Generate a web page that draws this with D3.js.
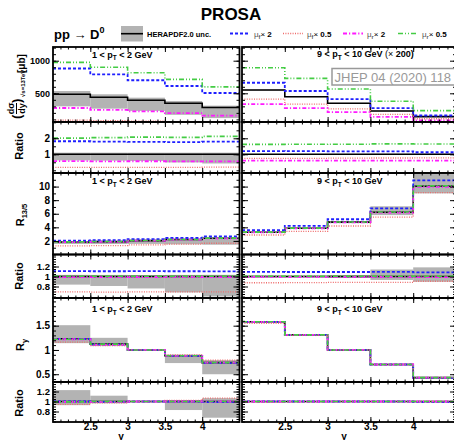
<!DOCTYPE html>
<html><head><meta charset="utf-8">
<script src="https://cdn.jsdelivr.net/npm/d3@7"></script>
<style>
body{margin:0;background:#fff}
svg{display:block}
text{font-family:"Liberation Sans",Arial,Helvetica,sans-serif}
</style>
</head><body>
<svg id="chart" width="454" height="440"></svg>
<script>
// Rapidity bins (LHCb-like binning) and tick labels
const yEdges = [2.0, 2.5, 3.0, 3.5, 4.0, 4.5];
const xTickLabels = [2.5, 3, 3.5, 4];

// dsigma/dy at 13 TeV [mub], 1 < pT < 2 GeV
const xsLowNom  = [485, 440, 393, 347, 282];
const xsLowUp   = [535, 485, 433, 382, 311];
const xsLowDn   = [300, 265, 230, 170, 120];
const xsLowMuF2  = [880, 790, 700, 612, 505];
const xsLowMuF05 = [88, 80, 72, 64, 54];
const xsLowMuR2  = [275, 245, 222, 195, 158];
const xsLowMuR05 = [975, 900, 815, 714, 598];

// dsigma/dy at 13 TeV [mub], 9 < pT < 10 GeV (x 200)
const xsHighNom  = [550, 448, 347, 229, 142];
const xsHighUp   = [560, 456, 354, 236, 148];
const xsHighDn   = [540, 440, 340, 222, 136];
const xsHighMuF2  = [662, 535, 410, 272, 160];
const xsHighMuF05 = [410, 335, 262, 176, 110];
const xsHighMuR2  = [335, 272, 210, 138, 86];
const xsHighMuR05 = [892, 729, 566, 378, 234];

// R_13/5, 1 < pT < 2 GeV
const r135LowNom  = [1.85, 1.9, 2.05, 2.2, 2.4];
const r135LowUp   = [1.91, 1.96, 2.11, 2.27, 2.48];
const r135LowDn   = [1.55, 1.54, 1.56, 1.5, 1.44];
const r135LowMuF2  = [2.05, 2.1, 2.27, 2.43, 2.65];
const r135LowMuF05 = [1.28, 1.31, 1.42, 1.52, 1.66];
const r135LowMuR2  = [1.83, 1.88, 2.03, 2.18, 2.37];
const r135LowMuR05 = [1.86, 1.91, 2.06, 2.21, 2.41];

// R_13/5, 9 < pT < 10 GeV
const r135HighNom  = [3.28, 3.87, 4.76, 6.23, 10.06];
const r135HighUp   = [3.34, 3.94, 4.9, 7.1, 11.9];
const r135HighDn   = [3.22, 3.8, 4.62, 5.8, 9.0];
const r135HighMuF2  = [3.58, 4.22, 5.19, 6.8, 10.9];
const r135HighMuF05 = [2.87, 3.4, 4.2, 5.5, 9.1];
const r135HighMuR2  = [3.25, 3.84, 4.72, 6.18, 9.95];
const r135HighMuR05 = [3.3, 3.89, 4.78, 6.26, 10.1];

// R_y (normalised to 3.0 < y < 3.5), 1 < pT < 2 GeV
const ryLowNom  = [1.23, 1.12, 1.0, 0.88, 0.74];
const ryLowUp   = [1.51, 1.25, 1.005, 0.905, 0.79];
const ryLowDn   = [1.14, 1.08, 0.995, 0.73, 0.5];
const ryLowMuF2  = [1.23, 1.11, 1.0, 0.88, 0.73];
const ryLowMuF05 = [1.16, 1.09, 1.0, 0.9, 0.79];
const ryLowMuR2  = [1.22, 1.11, 1.0, 0.88, 0.74];
const ryLowMuR05 = [1.22, 1.12, 1.0, 0.88, 0.74];

// R_y, 9 < pT < 10 GeV
const ryHighNom  = [1.58, 1.31, 1.0, 0.70, 0.43];
const ryHighUp   = [1.595, 1.32, 1.003, 0.705, 0.435];
const ryHighDn   = [1.565, 1.30, 0.997, 0.695, 0.425];
const ryHighMuF2  = [1.58, 1.31, 1.0, 0.70, 0.425];
const ryHighMuF05 = [1.55, 1.30, 1.0, 0.70, 0.43];
const ryHighMuR2  = [1.58, 1.31, 1.0, 0.70, 0.43];
const ryHighMuR05 = [1.58, 1.31, 1.0, 0.70, 0.43];

const legendLabels = ["HERAPDF2.0 unc.", "\u03bc_f\u00d7 2", "\u03bc_f\u00d7 0.5", "\u03bc_r\u00d7 2", "\u03bc_r\u00d7 0.5"];

// ---------- layout ----------
const svg = d3.select("#chart");
const cols = [{x0: 53, x1: 239.5}, {x0: 242, x1: 456}];
const fmt1 = v => v === 1 ? "1" : d3.format(".1f")(v);
const rows = [
  {y0: 47,    y1: 122,   dom: [60, 1210],    major: [500, 1000],      minorStep: 100,  fmt: d3.format("d"), fs: 9},
  {y0: 122,   y1: 173,   dom: [-0.17, 3.02], major: [1, 2],           minorStep: 0.5,  fmt: d3.format("d"), fs: 10},
  {y0: 173,   y1: 254.5, dom: [0, 12],       major: [2, 4, 6, 8, 10], minorStep: 1,    fmt: d3.format("d"), fs: 10},
  {y0: 254.5, y1: 298,   dom: [0.57, 1.44],  major: [0.8, 1, 1.2],    minorStep: 0.05, fmt: fmt1, fs: 9.5},
  {y0: 298,   y1: 382,   dom: [0.34, 2.07],  major: [0.5, 1, 1.5],    minorStep: 0.1,  fmt: fmt1, fs: 10},
  {y0: 382,   y1: 422,   dom: [0.59, 1.39],  major: [0.8, 1, 1.2],    minorStep: 0.05, fmt: fmt1, fs: 9.5}
];

const styles = {
  muF2:  {color: "#1f1fff", dash: "3,2",          width: 1.8},
  muF05: {color: "#ee6b6b", dash: "1,1.4",        width: 1.3},
  muR2:  {color: "#ff1aff", dash: "4,2,1.2,2",    width: 1.8},
  muR05: {color: "#44cc44", dash: "5,2,1,2,1,2",  width: 1.6}
};
const bandColor = "#b3b3b3";

const observables = [
  {main: 0, ratio: 1,
   sets: [
     {nom: xsLowNom, up: xsLowUp, dn: xsLowDn, muF2: xsLowMuF2, muF05: xsLowMuF05, muR2: xsLowMuR2, muR05: xsLowMuR05},
     {nom: xsHighNom, up: xsHighUp, dn: xsHighDn, muF2: xsHighMuF2, muF05: xsHighMuF05, muR2: xsHighMuR2, muR05: xsHighMuR05}]},
  {main: 2, ratio: 3,
   sets: [
     {nom: r135LowNom, up: r135LowUp, dn: r135LowDn, muF2: r135LowMuF2, muF05: r135LowMuF05, muR2: r135LowMuR2, muR05: r135LowMuR05},
     {nom: r135HighNom, up: r135HighUp, dn: r135HighDn, muF2: r135HighMuF2, muF05: r135HighMuF05, muR2: r135HighMuR2, muR05: r135HighMuR05}]},
  {main: 4, ratio: 5,
   sets: [
     {nom: ryLowNom, up: ryLowUp, dn: ryLowDn, muF2: ryLowMuF2, muF05: ryLowMuF05, muR2: ryLowMuR2, muR05: ryLowMuR05},
     {nom: ryHighNom, up: ryHighUp, dn: ryHighDn, muF2: ryHighMuF2, muF05: ryHighMuF05, muR2: ryHighMuR2, muR05: ryHighMuR05}]}
];

const defs = svg.append("defs");
let clipId = 0;

function makeScales(ci, ri) {
  const c = cols[ci], r = rows[ri];
  const x = d3.scaleLinear().domain([yEdges[0], yEdges[yEdges.length - 1]]).range([c.x0, c.x1]);
  const y = d3.scaleLinear().domain(r.dom).range([r.y1, r.y0]);
  return {x, y};
}

function stepPoints(vals) {
  const pts = [];
  vals.forEach((v, i) => { pts.push([yEdges[i], v]); pts.push([yEdges[i + 1], v]); });
  return pts;
}

function panel(ci, ri, nom, up, dn, series, isRatio) {
  const {x, y} = makeScales(ci, ri);
  const c = cols[ci], r = rows[ri];
  const id = "clip" + (clipId++);
  defs.append("clipPath").attr("id", id).append("rect")
    .attr("x", c.x0).attr("y", r.y0).attr("width", c.x1 - c.x0).attr("height", r.y1 - r.y0);
  const g = svg.append("g").attr("clip-path", `url(#${id})`);
  const val = (arr, i) => isRatio ? arr[i] / nom[i] : arr[i];

  // uncertainty band
  g.selectAll("rect.band").data(nom).join("rect").attr("class", "band")
    .attr("x", (d, i) => x(yEdges[i]))
    .attr("width", (d, i) => x(yEdges[i + 1]) - x(yEdges[i]))
    .attr("y", (d, i) => y(val(up, i)))
    .attr("height", (d, i) => y(val(dn, i)) - y(val(up, i)))
    .attr("fill", bandColor);

  const line = d3.line().x(d => x(d[0])).y(d => y(d[1]));
  // nominal
  g.append("path").attr("d", line(stepPoints(nom.map((d, i) => val(nom, i)))))
    .attr("fill", "none").attr("stroke", "#000").attr("stroke-width", 1.6);
  // scale variations
  ["muF2", "muF05", "muR2", "muR05"].forEach(k => {
    const s = styles[k];
    g.append("path").attr("d", line(stepPoints(series[k].map((d, i) => val(series[k], i)))))
      .attr("fill", "none").attr("stroke", s.color).attr("stroke-width", s.width)
      .attr("stroke-dasharray", s.dash);
  });

  // frame and ticks
  const ax = svg.append("g");
  const majLenX = 5, minLenX = 2.5, majLenY = 6, minLenY = 3;
  const xMinor = d3.range(20, 46).map(v => v / 10).filter(v => v > 2.0 && v < 4.5);
  [[r.y1, -1], [r.y0, 1]].forEach(([yy, dir]) => {
    ax.append("g").attr("transform", `translate(0,${yy})`)
      .call((dir < 0 ? d3.axisBottom(x) : d3.axisTop(x)).tickValues(xMinor).tickSize(-minLenX).tickFormat(""));
    ax.append("g").attr("transform", `translate(0,${yy})`)
      .call((dir < 0 ? d3.axisBottom(x) : d3.axisTop(x)).tickValues(xTickLabels).tickSize(-majLenX).tickFormat(""));
  });
  const yMinor = d3.range(Math.ceil(r.dom[0] / r.minorStep), Math.floor(r.dom[1] / r.minorStep) + 1)
    .map(k => +(k * r.minorStep).toFixed(4));
  [[c.x0, d3.axisLeft], [c.x1, d3.axisRight]].forEach(([xx, fn]) => {
    ax.append("g").attr("transform", `translate(${xx},0)`)
      .call(fn(y).tickValues(yMinor).tickSize(-minLenY).tickFormat(""));
    ax.append("g").attr("transform", `translate(${xx},0)`)
      .call(fn(y).tickValues(r.major).tickSize(-majLenY).tickFormat(""));
  });
  ax.selectAll(".domain").remove();
  ax.selectAll(".tick line").attr("stroke", "#000").attr("stroke-width", 1);
  ax.append("rect").attr("x", c.x0).attr("y", r.y0).attr("width", c.x1 - c.x0).attr("height", r.y1 - r.y0)
    .attr("fill", "none").attr("stroke", "#000").attr("stroke-width", 1.8);

  // y tick labels on the left column only
  if (ci === 0) {
    const lab = svg.append("g").attr("transform", `translate(${c.x0},0)`)
      .call(d3.axisLeft(y).tickValues(r.major).tickSize(0).tickPadding(3).tickFormat(r.fmt));
    lab.select(".domain").remove();
    lab.selectAll("text").attr("font-size", r.fs).attr("font-weight", "bold")
      .attr("font-family", "Liberation Sans, Arial, sans-serif").attr("fill", "#000");
  }
  // x tick labels on the bottom row only
  if (ri === rows.length - 1) {
    const lab = svg.append("g").attr("transform", `translate(0,${r.y1})`)
      .call(d3.axisBottom(x).tickValues(xTickLabels).tickSize(0).tickPadding(0)
        .tickFormat(v => v === 3 || v === 4 ? String(v) : d3.format(".1f")(v)));
    lab.select(".domain").remove();
    lab.selectAll("text").attr("font-size", 10).attr("font-weight", "bold")
      .attr("font-family", "Liberation Sans, Arial, sans-serif").attr("fill", "#000")
      .attr("y", 7.5).attr("dy", null);
  }
}

observables.forEach(o => {
  o.sets.forEach((s, ci) => {
    panel(ci, o.main, s.nom, s.up, s.dn, s, false);
    panel(ci, o.ratio, s.nom, s.up, s.dn, s, true);
  });
});

// ---------- text ----------
const boldTxt = (x, y, size) => svg.append("text").attr("x", x).attr("y", y)
  .attr("font-size", size).attr("font-weight", "bold").attr("fill", "#000");

boldTxt(231, 20, 17).attr("text-anchor", "middle").text("PROSA");
const pp = boldTxt(54, 39, 13);
pp.append("tspan").text("pp ");
pp.append("tspan").attr("font-weight", "normal").text("\u2192");
pp.append("tspan").text(" D");
pp.append("tspan").attr("font-size", 9).attr("dy", -6).text("0");

// bin labels
function ptLabel(x, y, lo, hi, extra) {
  const t = boldTxt(x, y, 9);
  t.append("tspan").text(`${lo} < p`);
  t.append("tspan").attr("font-size", 6.5).attr("dy", 2.5).text("T");
  t.append("tspan").attr("dy", -2.5).text(lo === 1 ? ` <  ${hi} GeV` : ` < ${hi} GeV`);
  if (extra) {
    t.append("tspan").attr("font-weight", "normal").text(" (\u00d7 ");
    t.append("tspan").text("200)");
  }
}
ptLabel(92, 57.5, 1, 2, false);
ptLabel(317, 57, 9, 10, true);
ptLabel(92, 184, 1, 2, false);
ptLabel(317, 184, 9, 10, false);
ptLabel(92, 312, 1, 2, false);
ptLabel(317, 312, 9, 10, false);

// journal reference box
svg.append("rect").attr("x", 332).attr("y", 68.5).attr("width", 130).attr("height", 16.5)
  .attr("fill", "#fff").attr("stroke", "#999").attr("stroke-width", 1.5);
svg.append("text").attr("x", 334.5).attr("y", 81.5).attr("font-size", 13).attr("fill", "#999")
  .text("JHEP 04 (2020) 118");

// axis titles
function rotLabel(x, y) {
  return svg.append("text").attr("transform", `translate(${x},${y}) rotate(-90)`)
    .attr("text-anchor", "middle").attr("font-weight", "bold").attr("fill", "#000");
}
rotLabel(23, 146).attr("font-size", 11).text("Ratio");
rotLabel(23, 276).attr("font-size", 11).text("Ratio");
rotLabel(23, 403).attr("font-size", 11).text("Ratio");
const r135 = rotLabel(24, 215).attr("font-size", 11);
r135.append("tspan").text("R");
r135.append("tspan").attr("font-size", 7.5).attr("dy", 3).text("13/5");
const ry = rotLabel(24, 345).attr("font-size", 11);
ry.append("tspan").text("R");
ry.append("tspan").attr("font-size", 7.5).attr("dy", 3).text("y");

// cross-section axis title: (dsigma/dy)_{sqrt s = 13 TeV} [mub]
const xl = svg.append("g").attr("transform", "translate(0,119) rotate(-90)");
xl.append("text").attr("x", 0).attr("y", 21).attr("font-size", 13).attr("font-weight", "bold").text("(");
xl.append("text").attr("x", 10.5).attr("y", 14).attr("font-size", 9).attr("font-weight", "bold")
  .attr("text-anchor", "middle").text("d\u03c3");
xl.append("line").attr("x1", 5).attr("x2", 16).attr("y1", 16.5).attr("y2", 16.5).attr("stroke", "#000").attr("stroke-width", 1);
xl.append("text").attr("x", 10.5).attr("y", 24.5).attr("font-size", 9).attr("font-weight", "bold")
  .attr("text-anchor", "middle").text("dy");
xl.append("text").attr("x", 16).attr("y", 21).attr("font-size", 13).attr("font-weight", "bold").text(")");
xl.append("text").attr("x", 22).attr("y", 25).attr("font-size", 6).attr("font-weight", "bold").text("\u221as=13TeV");
xl.append("text").attr("x", 46).attr("y", 25).attr("font-size", 10).attr("font-weight", "bold").text("[\u03bcb]");

// rapidity axis titles
boldTxt(121, 439.5, 10).attr("text-anchor", "middle").text("y");
boldTxt(344, 439.5, 10).attr("text-anchor", "middle").text("y");

// ---------- legend ----------
const leg = svg.append("g");
leg.append("rect").attr("x", 121).attr("y", 26).attr("width", 22).attr("height", 15.5).attr("fill", bandColor);
leg.append("line").attr("x1", 121).attr("x2", 143).attr("y1", 33.7).attr("y2", 33.7).attr("stroke", "#000").attr("stroke-width", 1.6);
leg.append("text").attr("x", 147).attr("y", 36.5).attr("font-size", 7.5).attr("font-weight", "bold").text(legendLabels[0]);
const legItems = [
  {k: "muF2", x: 230, tx: 254, lab: legendLabels[1]},
  {k: "muF05", x: 283, tx: 307, lab: legendLabels[2]},
  {k: "muR2", x: 343, tx: 367, lab: legendLabels[3]},
  {k: "muR05", x: 398, tx: 422, lab: legendLabels[4]}
];
legItems.forEach(it => {
  const s = styles[it.k];
  leg.append("line").attr("x1", it.x).attr("x2", it.x + 20).attr("y1", 33.5).attr("y2", 33.5)
    .attr("stroke", s.color).attr("stroke-width", s.width).attr("stroke-dasharray", s.dash);
  const [mu, rest] = it.lab.split("_");
  const t = leg.append("text").attr("x", it.tx).attr("y", 36.5).attr("font-size", 8).attr("font-weight", "bold");
  t.append("tspan").attr("font-weight", "normal").attr("fill", "#555").text(mu);
  t.append("tspan").attr("font-size", 5.5).attr("dy", 2).attr("fill", "#555").text(rest[0]);
  t.append("tspan").attr("dy", -2).attr("font-weight", "normal").text(rest.slice(1, 2));
  t.append("tspan").text(rest.slice(2));
});
</script>
</body></html>
